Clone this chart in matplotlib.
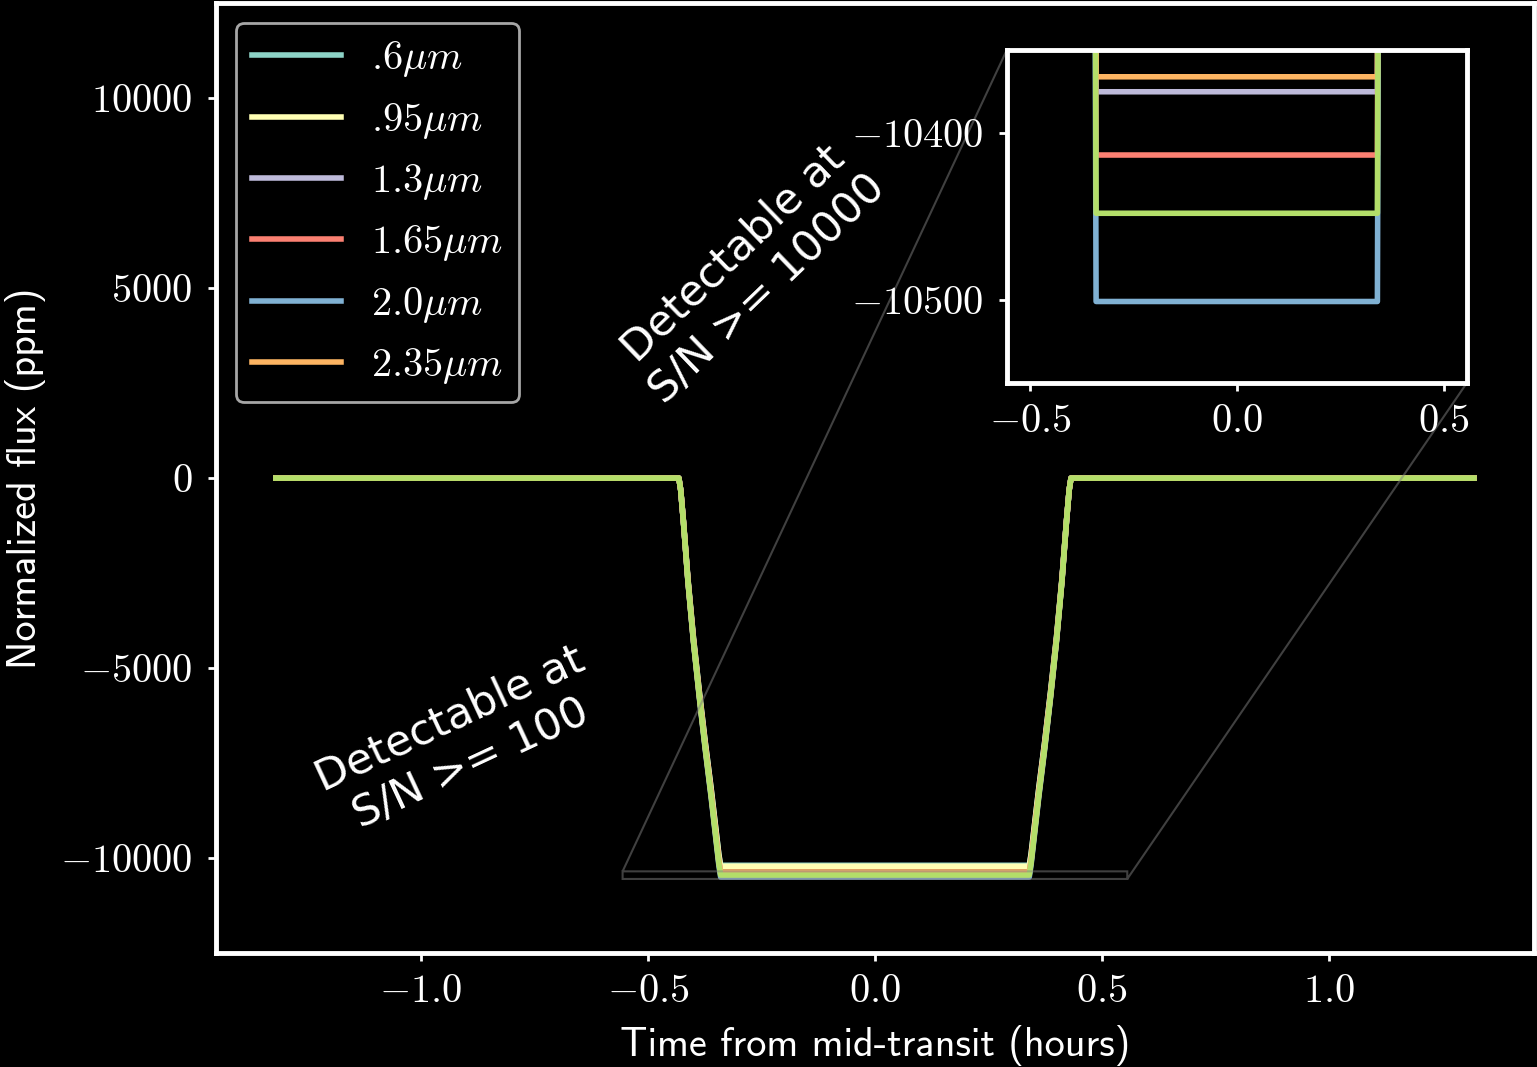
import matplotlib
matplotlib.use("Agg")
import matplotlib.pyplot as plt

# wavelength bands and their colours (last curve has no legend entry)
labels = [r".6$\mu m$", r".95$\mu m$", r"1.3$\mu m$", r"1.65$\mu m$",
          r"2.0$\mu m$", r"2.35$\mu m$", None]
colors = ["#8dd3c7", "#ffffb3", "#bebada", "#fb8072", "#80b1d3", "#fdb462", "#b3de69"]

# transit depth in ppm for each band
depths = [10190, 10215, 10375, 10413, 10501, 10366, 10448]

# time from mid-transit (hours) and fraction of the full depth at that time
times = [-1.32, -0.432, -0.428, -0.422, -0.412, -0.400, -0.387, -0.374, -0.361,
         -0.351, -0.344, -0.340, 0.340, 0.344, 0.351, 0.361, 0.374, 0.387,
         0.400, 0.412, 0.422, 0.428, 0.432, 1.32]
shape = [0.0, 0.0, 0.03, 0.11, 0.26, 0.41, 0.55, 0.68, 0.80,
         0.90, 0.97, 1.0, 1.0, 0.97, 0.90, 0.80, 0.68, 0.55,
         0.41, 0.26, 0.11, 0.03, 0.0, 0.0]

xticks = [-1.0, -0.5, 0.0, 0.5, 1.0]
yticks = [-10000, -5000, 0, 5000, 10000]
inset_xticks = [-0.5, 0.0, 0.5]
inset_yticks = [-10500, -10400]


def light_curve(depth):
    return [-depth * s for s in shape]


def setup_style():
    plt.style.use("dark_background")
    plt.rcParams["font.family"] = "cmr10"
    plt.rcParams["mathtext.fontset"] = "cm"
    plt.rcParams["axes.formatter.use_mathtext"] = True
    plt.rcParams["font.size"] = 29
    plt.rcParams["axes.linewidth"] = 3.5
    plt.rcParams["xtick.major.width"] = 2
    plt.rcParams["ytick.major.width"] = 2
    plt.rcParams["xtick.major.size"] = 6
    plt.rcParams["ytick.major.size"] = 6
    plt.rcParams["xtick.major.pad"] = 9
    plt.rcParams["ytick.major.pad"] = 11


def main():
    setup_style()
    fig = plt.figure(figsize=(15.37, 10.67), dpi=100)
    ax = fig.add_axes([0.1405, 0.1068, 0.8575, 0.8902])

    for lab, col, d in zip(labels, colors, depths):
        ax.plot(times, light_curve(d), color=col, lw=4, label=lab)

    ax.set_xlim(-1.452, 1.452)
    ax.set_ylim(-12500, 12500)
    ax.set_xticks(xticks)
    ax.set_yticks(yticks)
    ax.set_xlabel("Time from mid-transit (hours)", family="cmss10", fontsize=29, labelpad=11)
    ax.set_ylabel("Normalized flux (ppm)", family="cmss10", fontsize=29, labelpad=10)

    leg = ax.legend(loc="upper left", fontsize=29, handlelength=2.2, handletextpad=0.75,
                    labelspacing=0.53, borderpad=0.4, framealpha=1.0, facecolor="black")
    leg.get_frame().set_edgecolor("0.65")
    leg.get_frame().set_linewidth(2)

    ax.text(-0.914, -6925, "Detectable at\nS/N >= 100", rotation=25, ha="center",
            va="center", multialignment="center", family="DejaVu Sans", fontsize=31)
    ax.text(-0.275, 5450, "Detectable at\nS/N >= 10000", rotation=44, ha="center",
            va="center", multialignment="center", family="DejaVu Sans", fontsize=31)

    # zoomed view of the bottom of the transit
    axins = fig.add_axes([0.655, 0.641, 0.2993, 0.312])
    for col, d in zip(colors, depths):
        axins.plot(times, light_curve(d), color=col, lw=4)
    axins.set_xlim(-0.556, 0.556)
    axins.set_ylim(-10550, -10350)
    axins.set_xticks(inset_xticks)
    axins.set_yticks(inset_yticks)
    ax.indicate_inset_zoom(axins, edgecolor="0.5", linewidth=1.5)

    fig.savefig("out.png", dpi=100, facecolor="black")


if __name__ == "__main__":
    main()
